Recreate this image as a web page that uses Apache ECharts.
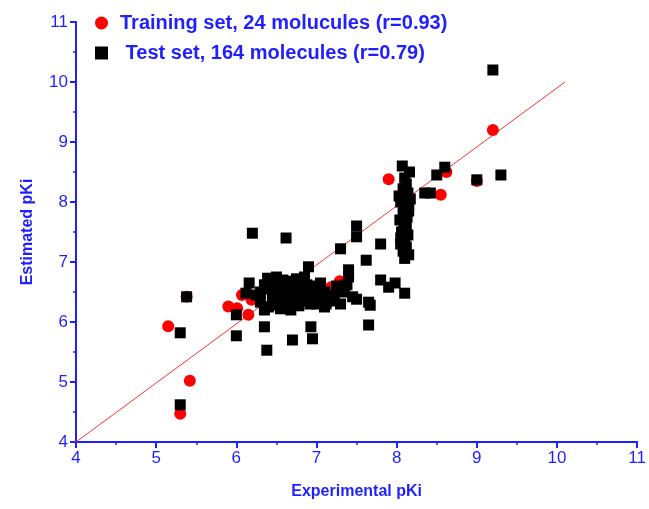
<!DOCTYPE html>
<html>
<head>
<meta charset="utf-8">
<script src="https://cdn.jsdelivr.net/npm/echarts@6/dist/echarts.min.js"></script>
<style>
  html, body { margin: 0; padding: 0; background: #fff; }
  #chart { width: 649px; height: 509px; }
</style>
</head>
<body>
<div id="chart"></div>
<script>
// 训练集 (红点)
var trainName = 'Training set, 24 molucules (r=0.93)';
var trainPoints = [
    [5.15, 5.93], [5.3, 4.47], [5.42, 5.02], [5.38, 6.42], [5.9, 6.26],
    [6.01, 6.23], [6.07, 6.45], [6.15, 6.12], [6.19, 6.37], [6.38, 6.62],
    [6.6, 6.5], [6.9, 6.45], [7.0, 6.5], [7.18, 6.58], [7.29, 6.68],
    [7.9, 8.38], [8.1, 7.8], [8.1, 7.3], [8.1, 8.0], [8.55, 8.12],
    [8.62, 8.5], [9.0, 8.35], [9.2, 9.2], [6.5, 6.6]
];

// 测试集 (黑方块)
var testName = ' Test set, 164 molecules (r=0.79)';
var testPoints = [
    // x=8.1 附近那一列
    [8.07, 8.6], [8.16, 8.5], [8.1, 8.4], [8.12, 8.3], [8.08, 8.22], [8.14, 8.15],
    [8.1, 8.08], [8.05, 8.0], [8.15, 7.95], [8.1, 7.9], [8.08, 7.82], [8.13, 7.75],
    [8.04, 7.7], [8.12, 7.62], [8.1, 7.55], [8.06, 7.5], [8.14, 7.45], [8.1, 7.38],
    [8.05, 7.3], [8.12, 7.25], [8.08, 7.18], [8.15, 7.12], [8.1, 7.06], [8.05, 7.4],
    [8.15, 7.85], [8.03, 8.1], [8.17, 8.05], [8.09, 7.65], [8.11, 7.2],
    // 右上
    [8.5, 8.45], [8.6, 8.58], [8.35, 8.15], [8.42, 8.15], [9.0, 8.37], [9.3, 8.45], [9.2, 10.2],
    // 7 ~ 8
    [7.5, 7.6], [7.5, 7.42], [7.3, 7.22], [7.8, 7.3], [7.62, 7.03], [7.4, 6.87],
    [7.4, 6.75], [7.8, 6.7], [7.9, 6.58], [7.98, 6.65], [8.1, 6.48], [7.65, 6.33],
    [7.67, 6.28], [7.65, 5.95], [7.45, 6.42], [7.5, 6.38], [7.35, 6.5], [7.3, 6.3],
    [7.2, 6.35], [7.1, 6.5], [7.25, 6.6], [7.0, 6.55], [7.05, 6.4], [6.9, 6.92],
    [6.95, 6.4], [6.93, 5.92], [6.95, 5.72], [7.38, 6.62], [7.22, 6.45], [7.12, 6.3],
    // 中间密集区
    [6.2, 7.48], [6.62, 7.4], [6.16, 6.65], [6.39, 6.73], [6.12, 6.48],
    [6.3, 6.5], [6.35, 6.62], [6.4, 6.55], [6.45, 6.7], [6.5, 6.45], [6.5, 6.62],
    [6.55, 6.35], [6.6, 6.55], [6.62, 6.68], [6.65, 6.4], [6.7, 6.6], [6.72, 6.3],
    [6.75, 6.48], [6.8, 6.7], [6.82, 6.55], [6.85, 6.35], [6.88, 6.62], [6.9, 6.47],
    [6.4, 6.25], [6.45, 6.38], [6.55, 6.22], [6.6, 6.3], [6.68, 6.2], [6.78, 6.27],
    [6.3, 6.33], [6.25, 6.45], [6.35, 6.2], [6.95, 6.6], [7.0, 6.3], [7.05, 6.65],
    [7.1, 6.25], [7.15, 6.42], [6.5, 6.75], [6.58, 6.7], [6.75, 6.72], [6.85, 6.75],
    [7.05, 6.55], [6.42, 6.65], [6.52, 6.52], [6.7, 6.45], [6.8, 6.4], [6.62, 6.62],
    [6.92, 6.3], [6.48, 6.28],
    // 左下
    [5.38, 6.42], [5.3, 5.82], [5.3, 4.62], [6.0, 5.77], [6.0, 6.12], [6.35, 5.92],
    [6.38, 5.53], [6.7, 5.7]
];

// 拟合线
var fitLine = [[4, 4], [10.1, 10]];

var axisBlue = '#1f1fff';
var font = 'Liberation Sans, Arial, sans-serif';

var chart = echarts.init(document.getElementById('chart'));

var option = {
    backgroundColor: '#fff',
    animation: false,
    textStyle: { fontFamily: font },
    grid: { left: 76, right: 10, top: 22, bottom: 67 },
    legend: {
        orient: 'vertical',
        left: 90,
        top: 8,
        itemWidth: 13,
        itemHeight: 13,
        itemGap: 10,
        data: [
            { name: trainName, icon: 'circle' },
            { name: testName, icon: 'rect' }
        ],
        textStyle: {
            color: axisBlue, fontSize: 20, fontWeight: 'bold', fontFamily: font,
            padding: [0, 0, 0, 7]
        }
    },
    xAxis: {
        type: 'value',
        min: 4,
        max: 11,
        interval: 1,
        name: 'Experimental pKi',
        nameLocation: 'middle',
        nameGap: 42,
        nameTextStyle: { color: axisBlue, fontSize: 16, fontWeight: 'bold' },
        axisLine: { lineStyle: { color: axisBlue, width: 2 } },
        axisTick: { length: 6, lineStyle: { color: axisBlue, width: 2 } },
        minorTick: { show: true, splitNumber: 2, length: 3, lineStyle: { color: axisBlue, width: 1.5 } },
        axisLabel: { color: axisBlue, fontSize: 17, margin: 8 },
        splitLine: { show: false }
    },
    yAxis: {
        type: 'value',
        min: 4,
        max: 11,
        interval: 1,
        name: 'Estimated pKi',
        nameLocation: 'middle',
        nameGap: 40,
        nameTextStyle: { color: axisBlue, fontSize: 16, fontWeight: 'bold' },
        axisLine: { lineStyle: { color: axisBlue, width: 2 } },
        axisTick: { length: 6, lineStyle: { color: axisBlue, width: 2 } },
        minorTick: { show: true, splitNumber: 2, length: 3, lineStyle: { color: axisBlue, width: 1.5 } },
        axisLabel: { color: axisBlue, fontSize: 17, margin: 8 },
        splitLine: { show: false }
    },
    series: [
        {
            name: 'fit',
            type: 'line',
            data: fitLine,
            symbol: 'none',
            lineStyle: { color: '#ff3030', width: 1 },
            z: 1
        },
        {
            name: trainName,
            type: 'scatter',
            symbol: 'circle',
            symbolSize: 12,
            data: trainPoints,
            itemStyle: { color: '#ff0000', opacity: 1 },
            z: 2
        },
        {
            name: testName,
            type: 'scatter',
            symbol: 'rect',
            symbolSize: 11,
            data: testPoints,
            itemStyle: { color: '#000', opacity: 1 },
            z: 3
        }
    ]
};

chart.setOption(option);
</script>
</body>
</html>
